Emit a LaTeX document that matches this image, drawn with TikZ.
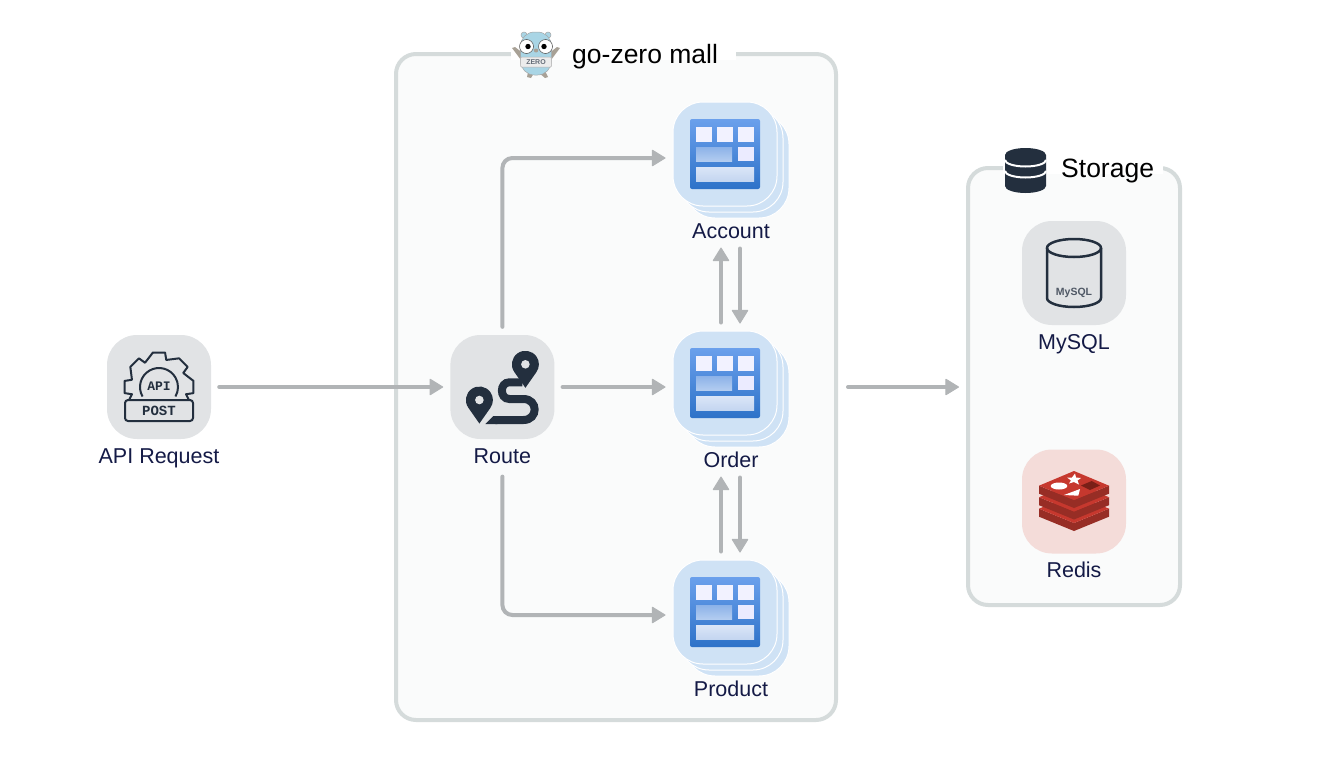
\documentclass[tikz,border=0pt]{standalone}
\usepackage{fontspec}
\usepackage{tikz}
\usetikzlibrary{positioning,arrows.meta}
\setmainfont{Liberation Sans}
\newfontfamily\iconfont{Liberation Mono}

\definecolor{linegray}{HTML}{B1B4B6}
\definecolor{groupline}{HTML}{D5DBDB}
\definecolor{groupfill}{HTML}{FAFBFB}
\definecolor{tilegray}{HTML}{E1E3E5}
\definecolor{tileblue}{HTML}{CFE2F5}
\definecolor{tilered}{HTML}{F4DCD9}
\definecolor{inkdark}{HTML}{232F3E}
\definecolor{captionnavy}{HTML}{141A46}
\definecolor{gopherblue}{HTML}{A9D5E5}
\definecolor{gopherfoot}{HTML}{A8A196}
\definecolor{gridtop}{HTML}{6BA0EC}
\definecolor{gridbottom}{HTML}{2D72C8}
\definecolor{midtop}{HTML}{8CB2E8}
\definecolor{midbottom}{HTML}{B2CCF0}
\definecolor{lowtop}{HTML}{DAE5F7}
\definecolor{lowbottom}{HTML}{C4D6F0}
\definecolor{redisface}{HTML}{C6382E}
\definecolor{redisside}{HTML}{972D25}
\definecolor{redishole}{HTML}{7A1F17}

\tikzset{
  flow/.style={line width=4pt,draw=linegray,line cap=round,rounded corners=10pt,
    -{Triangle[length=14pt,width=17pt,round,line width=1pt]},shorten <=8pt,shorten >=7pt},
  groupbox/.style={draw=groupline,fill=groupfill,line width=4pt,rounded corners=20pt,inner sep=0pt},
  tile/.style={minimum size=104pt,inner sep=0pt,rounded corners=30pt,fill=tilegray},
  caption/.style={font=\fontsize{21.5}{24}\selectfont,text=captionnavy,inner sep=0pt,
    text height=15pt,text depth=5pt},
  grouptitle/.style={font=\fontsize{26.5}{30}\selectfont,text=black,inner sep=0pt,anchor=base west},
  pics/service/.style={code={
    \foreach \off in {12,6}{
      \filldraw[fill=tileblue,draw=white,line width=1pt,rounded corners=30pt]
        (-52+\off,-52-\off) rectangle (52+\off,52-\off);
    }
    \node[tile,fill=tileblue,draw=white,line width=1pt] (-box) at (0,0) {};
    \shade[top color=gridtop,bottom color=gridbottom,rounded corners=2pt] (-35,-35) rectangle (35,35);
    \foreach \cx in {-21,0,21}{
      \fill[white!95!blue] (\cx-8,12) rectangle (\cx+8,27);
    }
    \shade[top color=midtop,bottom color=midbottom] (-29,-7) rectangle (7,7);
    \fill[white!92!blue] (13,-7) rectangle (29,7);
    \shade[top color=lowtop,bottom color=lowbottom] (-29,-27) rectangle (29,-13);
  }},
  pics/apiicon/.style={code={
    \draw[inkdark,line width=2pt,line join=round]
      (-30,-13) -- (195:28)
      \foreach \ang in {180,135,90,45,0}{
        -- (\ang+10:35) -- (\ang-10:35) -- (\ang-15:28)
      }
      -- (30,-13);
    \draw[inkdark,line width=2pt] (-150:19) arc[start angle=210,end angle=-30,radius=19];
    \filldraw[fill=tilegray,draw=inkdark,line width=2pt,rounded corners=3pt] (-34,-34) rectangle (34,-13);
    \node[font=\iconfont\bfseries\fontsize{13}{13}\selectfont,text=inkdark,inner sep=0pt] (apitext) at (0,1) {API};
    \node[font=\iconfont\bfseries\fontsize{14}{14}\selectfont,text=inkdark,inner sep=0pt] (posttext) at (0,-23.5) {POST};
  }},
  pics/routeicon/.style={code={
    \draw[inkdark,line width=8pt] (20,4.7) -- (7,4.7)
      .. controls (-3,4.7) and (-3,-12) .. (7,-12) -- (21,-12)
      .. controls (36,-12) and (36,-33) .. (21,-33) -- (-7,-33);
    \fill[inkdark] (-9,-29) -- (-17,-37) -- (-5,-37) -- (-5,-29) -- cycle;
    \foreach \px/\py in {23/22.7,-23/-13}{
      \fill[inkdark] (\px,\py) ++(215:13.5) arc[start angle=215,end angle=-35,radius=13.5] -- (\px,\py-23.5) -- cycle;
      \fill[tilegray] (\px,\py) circle (4.3);
    }
  }},
  pics/mysqlicon/.style={code={
    \draw[inkdark,line width=2.5pt] (-27,25) -- (-27,-25) arc[start angle=180,end angle=360,x radius=27,y radius=9]
      -- (27,25);
    \draw[inkdark,line width=2.5pt] (0,25) ellipse (27 and 9);
    \node[font=\bfseries\fontsize{10.5}{12}\selectfont,text=inkdark!80,inner sep=0pt] (mysqltext) at (0,-20) {MySQL};
  }},
  pics/redisicon/.style={code={
    \foreach \k in {2,1,0}{
      \begin{scope}[yshift=-11.5*\k]
        \fill[redisside] (-35,15.8) -- (-35,7.8) -- (0,-6.5) -- (35,7.8) -- (35,15.8) -- (0,1.5) -- cycle;
        \fill[redisface] (-35,15.8) -- (0,30.5) -- (35,15.8) -- (0,1.5) -- cycle;
      \end{scope}
    }
    \fill[white] (-15,15.5) ellipse (8.3 and 3.5);
    \fill[white] (-7,24) -- (-2,24) -- (1,28) -- (2,24) -- (7,23.5) -- (3.5,21) -- (5,17) -- (0,19.5) -- (-5,18) -- (-3,21) -- cycle;
    \fill[white] (-10,6.5) -- (6,12.5) -- (4.3,5.8) -- cycle;
    \fill[redishole] (7,16) -- (17.7,20.5) -- (26,16) -- (16,11.5) -- cycle;
  }},
  pics/gopher/.style={code={
    % arms and feet
    \fill[gopherfoot] (-15,-6) -- (-24,6) -- (-21,7) -- (-12,0) -- cycle;
    \fill[gopherfoot] (15,-6) -- (24,6) -- (21,7) -- (12,0) -- cycle;
    \fill[gopherfoot] (-2,-19) -- (-5,-24) -- (-9,-23) -- (-8,-18) -- cycle;
    \fill[gopherfoot] (3,-19) -- (9,-24) -- (12,-23) -- (9,-17) -- cycle;
    % ears and body
    \filldraw[fill=gopherblue,draw=gray!70,line width=.5pt] (-12,19) circle (3);
    \filldraw[fill=gopherblue,draw=gray!70,line width=.5pt] (12,19) circle (3);
    \filldraw[fill=gopherblue,draw=gray!70,line width=.5pt,rounded corners=14pt] (-15.5,-21) rectangle (15.5,22);
    % banner
    \filldraw[fill=gray!15,draw=gray!60,line width=.5pt,rounded corners=1pt] (-15.5,-13) rectangle (15.5,-3);
    \node[font=\bfseries\fontsize{7}{7}\selectfont,text=inkdark!70,inner sep=0pt] (gophertext) at (0,-8) {ZERO};
    % eyes
    \foreach \ex/\ox in {-9.5/1.5,9.5/-1.5}{
      \filldraw[fill=white,draw=black!70,line width=.5pt] (\ex,7.5) circle (7);
      \fill[black] (\ex+\ox,7.5) circle (2.7);
    }
    \fill[gopherfoot] (0,3.5) ellipse (2.2 and 2);
  }}
}

\begin{document}
\begin{tikzpicture}[x=1pt,y=1pt]
  \path[use as bounding box] (0,-766) rectangle (1322,0);

  % groups
  \node[groupbox,minimum width=440pt,minimum height=666pt] (mall) at (616,-387) {};
  \node[groupbox,minimum width=212pt,minimum height=437pt] (store) at (1074,-386.5) {};
  \fill[white] (511,-50) rectangle (736,-60);
  \fill[white] (1003,-164) rectangle (1163,-174);
  \pic at (536,-54) {gopher};
  \node[grouptitle] (malltitle) at (572,-63) {go-zero mall};
  \node[grouptitle] (storetitle) at (1061,-177) {Storage};
  % db icon
  \fill[inkdark] (1005,-155) -- (1005,-186) arc[start angle=180,end angle=360,x radius=20.5,y radius=7]
    -- (1046,-155) arc[start angle=0,end angle=180,x radius=20.5,y radius=7] -- cycle;
  \foreach \dy in {160,171}{
    \draw[white,line width=2pt] (1005,-\dy) arc[start angle=180,end angle=360,x radius=20.5,y radius=6.5];
  }

  % tiles
  \node[tile] (request) at (159,-387) {};
  \pic at (159,-387) {apiicon};
  \node[tile,right=239pt of request] (route) {};
  \pic at (route) {routeicon};
  \pic (account) at (725,-154) {service};
  \pic (order) at (725,-383) {service};
  \pic (product) at (725,-612) {service};
  \node[tile] (mysql) at (1074,-273) {};
  \pic at (mysql) {mysqlicon};
  \node[tile,fill=tilered] (redis) at (1074,-501.5) {};
  \pic at (redis) {redisicon};

  % captions
  \node[caption,below=9pt of request] (requestname) {API Request};
  \node[caption,below=9pt of route] (routename) {Route};
  \node[caption,below=17pt of account-box,xshift=6pt] (accountname) {Account};
  \node[caption,below=17pt of order-box,xshift=6pt] (ordername) {Order};
  \node[caption,below=17pt of product-box,xshift=6pt] (productname) {Product};
  \node[caption,below=9pt of mysql] (mysqlname) {MySQL};
  \node[caption,below=9pt of redis] (redisname) {Redis};

  % connectors
  \draw[flow] (request) -- (route);
  \draw[flow] (route) -- (route -| order-box.west);
  \draw[flow] (route) |- ([yshift=-4pt]account-box.west);
  \draw[flow] (routename.south) |- ([yshift=-3pt]product-box.west);
  \draw[flow] ([xshift=-4pt]order-box.north) -- ([xshift=-4pt,yshift=-34pt]account-box.south);
  \draw[flow] ([xshift=15pt,yshift=-34pt]account-box.south) -- ([xshift=15pt]order-box.north);
  \draw[flow] ([xshift=-4pt]product-box.north) -- ([xshift=-4pt,yshift=-34pt]order-box.south);
  \draw[flow] ([xshift=15pt,yshift=-34pt]order-box.south) -- ([xshift=15pt]product-box.north);
  \draw[flow,shorten <=10pt] (mall.east) -- (mall.east -| store.west);
\end{tikzpicture}
\end{document}
